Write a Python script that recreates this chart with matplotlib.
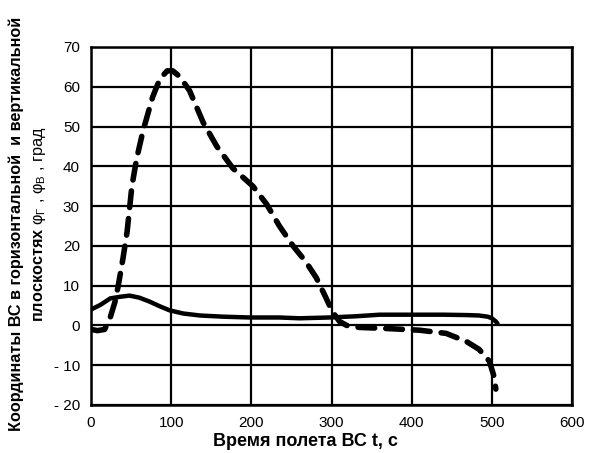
import matplotlib
matplotlib.use("Agg")
import matplotlib.pyplot as plt

plt.rcParams['font.family'] = ['Liberation Sans', 'DejaVu Sans']
plt.rcParams['mathtext.fontset'] = 'custom'
plt.rcParams['mathtext.rm'] = 'Liberation Sans'
plt.rcParams['mathtext.bf'] = 'Liberation Sans:bold'
plt.rcParams['mathtext.it'] = 'Liberation Sans:italic'

# Dashed curve (vertical plane angle)
t_dash = [0, 8, 17, 24, 30, 34, 40, 45, 51, 57, 65, 77, 86, 95, 102, 111, 123, 140, 157,
          177, 202, 219, 235, 252, 268, 281, 293, 301, 310, 319, 335, 372, 410, 443, 468,
          484, 497, 503, 505]
phi_dash = [-1, -1.3, -1, 2, 6, 10, 17, 23.5, 35, 42, 49, 57.5, 62, 64, 64, 62.5, 59, 51,
            45, 39.5, 35, 30.5, 25, 20, 16, 12, 7, 3.5, 1, 0, -0.5, -0.8, -1.2, -2, -4,
            -6, -9, -13, -16]

# Solid curve (horizontal plane angle)
t_solid = [0, 12, 24, 36, 48, 60, 73, 86, 98, 115, 136, 165, 198, 235, 260, 297, 330,
           360, 400, 440, 470, 484, 495, 500, 505, 507]
phi_solid = [4, 5.2, 6.8, 7.2, 7.5, 7, 6, 4.8, 3.8, 3, 2.5, 2.2, 2, 2, 1.8, 2, 2.3,
             2.7, 2.7, 2.7, 2.6, 2.5, 2.2, 1.8, 1.0, 0.5]

x_ticks = [0, 100, 200, 300, 400, 500, 600]
y_ticks = [-20, -10, 0, 10, 20, 30, 40, 50, 60, 70]
y_tick_labels = ['- 20', '- 10', '0', '10', '20', '30', '40', '50', '60', '70']

fig = plt.figure(figsize=(5.94, 4.53), dpi=100)
ax = fig.add_axes([91/594, 1-405/453, (572-91)/594, (405-47)/453])

ax.plot(t_solid, phi_solid, color='black', lw=3.2, solid_capstyle='round', zorder=3)
ax.plot(t_dash, phi_dash, color='black', lw=4, dashes=(3, 2), dash_capstyle='round', zorder=4)

ax.set_xlim(0, 600)
ax.set_ylim(-20, 70)
ax.set_xticks(x_ticks)
ax.set_yticks(y_ticks)
ax.set_yticklabels(y_tick_labels)
ax.grid(True, color='black', lw=1.6)
ax.set_axisbelow(True)
for s in ax.spines.values():
    s.set_linewidth(1.8)
ax.tick_params(length=0, labelsize=11, pad=8)

fig.text(305/594, 1-446/453, 'Время полета ВС t, с', ha='center', va='baseline',
         fontsize=13, fontweight='bold')

fig.text(16/594, 1-224/453, 'Координаты ВС в горизонтальной  и вертикальной',
         rotation=90, ha='center', va='center', fontsize=11.7, fontweight='bold')
fig.text(40/594, 1-224/453,
         r'$\mathbf{плоскостях}$ φ$_{\mathrm{Г}}$ , φ$_{\mathrm{В}}$ , град',
         rotation=90, ha='center', va='center', fontsize=11.7)

fig.savefig('out.png', dpi=100)
